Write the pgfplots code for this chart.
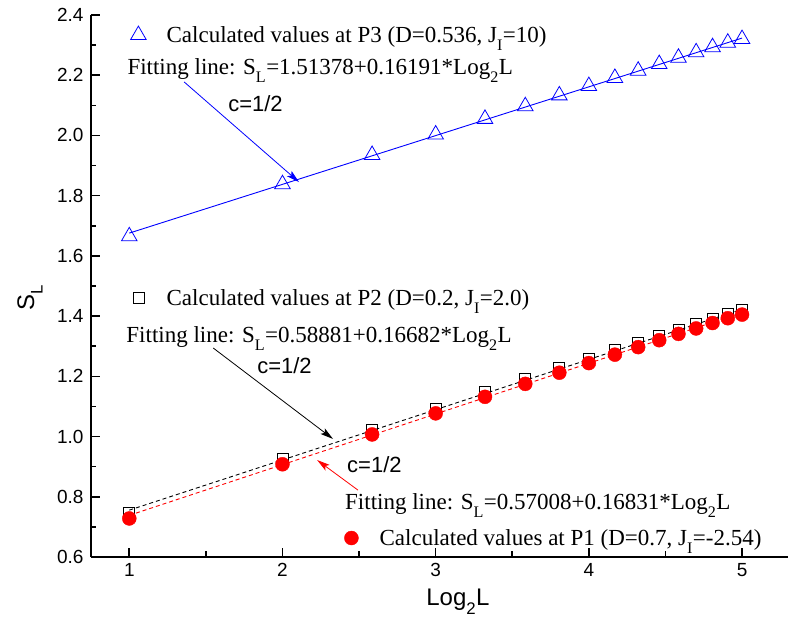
\documentclass[border=0pt]{standalone}
\usepackage{fontspec}
\setmainfont{Liberation Serif}
\setsansfont{Liberation Sans}
\usepackage{pgfplots}
\pgfplotsset{compat=1.18}
\usetikzlibrary{arrows.meta}

\newcommand\txt{\fontsize{23}{27}\selectfont}
\newcommand\lab{\sffamily\fontsize{24}{28}\selectfont}
% lowered subscript
\newcommand\sub[1]{\raisebox{-0.2em}{\textsubscript{#1}}}

% shared frame for the overlaid axes
\pgfplotsset{
  frame/.style={scale only axis, width=697pt, height=542pt,
    xmin=0.75, xmax=5.3, ymin=0.6, ymax=2.4,
    at={(0pt,0pt)}, anchor=south west, clip=false},
  keylegend/.style={
    legend image code/.code={\path (0pt,0pt) (36pt,0pt); \draw[##1] plot coordinates {(10pt,0pt)};},
    legend style={draw=none, fill=none, inner sep=0pt, anchor=west,
      font=\txt, at={(#1)}, legend cell align=left}},
}

\begin{document}
\begin{tikzpicture}
\useasboundingbox (-91pt,-70pt) rectangle (721pt,557pt);

% P3 with the visible axis frame
\begin{axis}[frame, keylegend={0.0531,0.963},
  axis x line*=bottom, axis y line*=left,
  axis line style={line width=1.6pt, -},
  tick align=inside, major tick length=9pt, minor tick length=5.5pt,
  every tick/.style={black, line width=1.6pt},
  xtick={1,2,3,4,5}, minor x tick num=1,
  ytick={0.6,0.8,1.0,1.2,1.4,1.6,1.8,2.0,2.2,2.4}, minor y tick num=1,
  yticklabel style={xshift=-4pt, /pgf/number format/.cd, fixed, fixed zerofill, precision=1},
  xticklabel style={yshift=-3pt},
  tick label style={font=\sffamily\fontsize{19}{22}\selectfont},
  /pgf/number format/assume math mode=true,
  xlabel={Log\sub{2}L},
  xlabel style={font=\lab, at={(axis description cs:0.5265,-0.083)}, anchor=center},
  ylabel={S\sub{L}},
  ylabel style={font=\lab, at={(axis description cs:-0.0875,0.478)}, anchor=center},
]
\addplot[blue, line width=0.9pt, forget plot] coordinates {(1,1.67569) (5,2.32333)};
\addplot[blue, only marks, mark=triangle, mark size=9pt, mark options={line width=0.8pt}]
  coordinates {
  (1,1.665) (2,1.838) (2.58496,1.935) (3,2.003) (3.32193,2.055) (3.58496,2.097)
  (3.80735,2.133) (4,2.164) (4.16993,2.191) (4.32193,2.215) (4.45943,2.237)
  (4.58496,2.258) (4.70044,2.276) (4.80735,2.293) (4.90689,2.308) (5,2.320)};
\addlegendentry{Calculated values at P3 (D=0.536, J\sub{I}=10)}

\node[anchor=base west, inner sep=0pt, font=\txt] at (axis cs:0.987,2.204)
  {Fitting line: S\sub{L}=1.51378+0.16191*Log\sub{2}L};
\node[anchor=base west, inner sep=0pt, font=\txt] at (axis cs:0.980,1.314)
  {Fitting line: S\sub{L}=0.58881+0.16682*Log\sub{2}L};
\node[anchor=base west, inner sep=0pt, font=\txt] at (axis cs:2.408,0.759)
  {Fitting line: S\sub{L}=0.57008+0.16831*Log\sub{2}L};

\node[anchor=base west, inner sep=0pt, font=\sffamily\fontsize{22}{26}\selectfont] at (axis cs:1.645,2.078) {c=1/2};
\node[anchor=base west, inner sep=0pt, font=\sffamily\fontsize{22}{26}\selectfont] at (axis cs:1.834,1.208) {c=1/2};
\node[anchor=base west, inner sep=0pt, font=\sffamily\fontsize{22}{26}\selectfont] at (axis cs:2.421,0.880) {c=1/2};

\draw[blue, line width=0.8pt, -{Stealth[length=13pt, width=7pt, inset=3pt]}]
  (axis cs:1.3585,2.1775) -- (axis cs:2.108,1.845);
\draw[black, line width=0.8pt, -{Stealth[length=13pt, width=7pt, inset=3pt]}]
  (axis cs:1.548,1.294) -- (axis cs:2.330,0.992);
\draw[red, line width=0.8pt, -{Stealth[length=13pt, width=7pt, inset=3pt]}]
  (axis cs:2.493,0.822) -- (axis cs:2.226,0.922);
\end{axis}

% P2
\begin{axis}[frame, hide axis, keylegend={0.0531,0.478}]
\addplot[black, only marks, mark=square, mark size=5.5pt, mark options={line width=0.8pt}]
  coordinates {
  (1,0.745) (2,0.925) (2.58496,1.023) (3,1.093) (3.32193,1.147) (3.58496,1.191)
  (3.80735,1.227) (4,1.259) (4.16993,1.287) (4.32193,1.312) (4.45943,1.334)
  (4.58496,1.355) (4.70044,1.374) (4.80735,1.391) (4.90689,1.407) (5,1.421)};
\addlegendentry{Calculated values at P2 (D=0.2, J\sub{I}=2.0)}
\end{axis}

% P1 and both dashed fitting lines
\begin{axis}[frame, hide axis, keylegend={0.3587,0.035}]
\addplot[red, only marks, mark=*, mark size=7pt]
  coordinates {
  (1,0.728) (2,0.908) (2.58496,1.007) (3,1.077) (3.32193,1.132) (3.58496,1.175)
  (3.80735,1.212) (4,1.244) (4.16993,1.272) (4.32193,1.297) (4.45943,1.320)
  (4.58496,1.341) (4.70044,1.359) (4.80735,1.377) (4.90689,1.393) (5,1.405)};
\addlegendentry{Calculated values at P1 (D=0.7, J\sub{I}=-2.54)}
\addplot[red, line width=0.9pt, dash pattern=on 4pt off 3pt, forget plot]
  coordinates {(1,0.73839) (5,1.41163)};
\addplot[black, line width=0.9pt, dash pattern=on 4pt off 3pt, forget plot]
  coordinates {(1,0.75563) (5,1.42291)};
\end{axis}
\end{tikzpicture}
\end{document}
